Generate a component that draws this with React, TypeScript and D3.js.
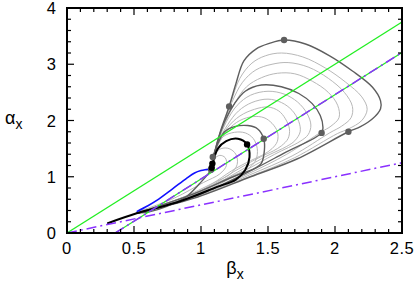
import { useEffect, useRef } from "react";
import * as d3 from "d3";

type Pt = [number, number];

// x ticks / y ticks
const xTicks = [0, 0.5, 1, 1.5, 2, 2.5];
const yTicks = [0, 1, 2, 3, 4];
const xMinor = d3.range(0, 2.5001, 0.1);
const yMinor = d3.range(0, 4.0001, 0.2);

// reference lines [x0, y0, x1, y1]
const greenLines: number[][] = [
  [0, 0, 2.5, 3.75],
  [0.36, 0, 2.5, 3.21],
];
const purpleLines: number[][] = [
  [0.36, 0, 2.5, 3.21],
  [0, 0, 2.5, 1.25],
];

// thin light grey loops
const lightLoops: Pt[][] = [
  [[1.09,1.30],[1.15,1.8],[1.22,2.3],[1.29,2.75],[1.38,3.02],[1.48,3.15],[1.60,3.2],[1.76,3.13],[1.93,2.93],[2.08,2.68],[2.2,2.42],[2.24,2.2],[2.2,2.0],[2.1,1.85],[2.02,1.77],[1.7,1.34],[1.37,1.01],[0.95,0.63],[0.52,0.35]],
  [[1.09,1.30],[1.15,1.82],[1.23,2.32],[1.31,2.68],[1.41,2.9],[1.53,3.0],[1.65,3.03],[1.8,2.95],[1.95,2.75],[2.07,2.5],[2.13,2.25],[2.12,2.05],[2.05,1.9],[1.96,1.78],[1.68,1.37],[1.36,1.03],[0.95,0.63],[0.52,0.35]],
  [[1.09,1.30],[1.16,1.84],[1.25,2.3],[1.34,2.6],[1.45,2.76],[1.57,2.84],[1.70,2.83],[1.83,2.7],[1.95,2.5],[2.02,2.27],[2.03,2.05],[1.97,1.9],[1.90,1.8],[1.64,1.4],[1.35,1.05],[0.95,0.64],[0.52,0.35]],
  [[1.09,1.30],[1.13,1.65],[1.19,1.98],[1.27,2.27],[1.37,2.45],[1.5,2.52],[1.62,2.47],[1.72,2.33],[1.79,2.13],[1.82,1.92],[1.8,1.75],[1.74,1.63],[1.55,1.4],[1.32,1.1],[0.95,0.66],[0.52,0.35]],
  [[1.09,1.30],[1.13,1.62],[1.2,1.93],[1.28,2.17],[1.38,2.32],[1.5,2.38],[1.6,2.32],[1.68,2.18],[1.73,1.98],[1.74,1.8],[1.7,1.64],[1.64,1.54],[1.5,1.38],[1.3,1.12],[0.95,0.67],[0.52,0.35]],
  [[1.09,1.30],[1.13,1.6],[1.2,1.88],[1.29,2.08],[1.4,2.2],[1.5,2.24],[1.58,2.17],[1.63,2.03],[1.66,1.85],[1.65,1.68],[1.6,1.55],[1.54,1.46],[1.45,1.36],[1.28,1.14],[0.95,0.68],[0.52,0.35]],
  [[1.09,1.30],[1.13,1.58],[1.2,1.83],[1.29,2.0],[1.39,2.07],[1.47,2.05],[1.53,1.95],[1.57,1.8],[1.57,1.63],[1.53,1.5],[1.47,1.4],[1.4,1.32],[1.26,1.15],[0.95,0.69],[0.52,0.35]],
  [[1.088,1.3],[1.12,1.55],[1.17,1.72],[1.25,1.79],[1.33,1.78],[1.39,1.68],[1.42,1.5],[1.41,1.3],[1.36,1.16],[1.22,1.0],[0.95,0.71],[0.52,0.35]],
  [[1.085,1.25],[1.1,1.4],[1.15,1.5],[1.21,1.5],[1.26,1.4],[1.27,1.22],[1.22,1.05],[1.1,0.9],[0.85,0.62],[0.52,0.36]],
  [[1.085,1.22],[1.1,1.32],[1.14,1.38],[1.18,1.34],[1.19,1.2],[1.14,1.05],[1.02,0.9],[0.8,0.62],[0.52,0.37]],
];

// darker grey loops
const darkLoops: Pt[][] = [
  [[1.09,1.30],[1.14,1.77],[1.21,2.25],[1.26,2.65],[1.32,3.06],[1.41,3.27],[1.51,3.37],[1.62,3.43],[1.78,3.36],[1.96,3.15],[2.13,2.88],[2.28,2.59],[2.34,2.35],[2.34,2.21],[2.28,2.03],[2.19,1.89],[2.10,1.80],[1.72,1.32],[1.37,1.0],[0.95,0.62],[0.52,0.35]],
  [[1.09,1.30],[1.12,1.6],[1.18,2.0],[1.25,2.3],[1.33,2.52],[1.45,2.63],[1.6,2.6],[1.73,2.48],[1.83,2.3],[1.89,2.09],[1.91,1.88],[1.90,1.78],[1.62,1.42],[1.34,1.07],[0.95,0.65],[0.52,0.35]],
  [[1.088,1.35],[1.126,1.59],[1.176,1.80],[1.25,1.89],[1.349,1.91],[1.423,1.85],[1.468,1.676],[1.473,1.47],[1.449,1.234],[1.40,1.15],[1.24,1.0],[0.95,0.70],[0.52,0.35]],
  [[1.085,1.2],[1.064,1.085],[0.99,0.88],[0.89,0.645],[0.74,0.47],[0.62,0.38],[0.52,0.35]],
];

const blackLoop: Pt[] = [[1.088,1.234],[1.126,1.50],[1.188,1.634],[1.275,1.676],[1.344,1.575],[1.362,1.35],[1.33,1.12],[1.26,0.95],[1.12,0.82],[0.85,0.57],[0.52,0.35],[0.3,0.17]];

const blueCurve: Pt[] = [[0.52,0.38],[0.6,0.48],[0.67,0.58],[0.79,0.79],[0.89,0.968],[0.952,1.067],[1.0,1.11],[1.039,1.127],[1.08,1.14]];

const greyDots: Pt[] = [[1.62,3.43],[1.21,2.25],[2.10,1.80],[1.90,1.78],[1.468,1.676],[1.088,1.35],[1.075,1.13]];
const blackDots: Pt[] = [[1.344,1.575],[1.085,1.234],[1.08,1.16]];

export default function App() {
  const ref = useRef<SVGSVGElement>(null);

  useEffect(() => {
    const svg = d3.select(ref.current);
    svg.selectAll("*").remove();
    const left = 67, right = 402, top = 8, bottom = 233;
    const x = d3.scaleLinear([0, 2.5], [left, right]);
    const y = d3.scaleLinear([0, 4], [bottom, top]);
    const font = "'Liberation Sans', Arial, sans-serif";

    svg.append("clipPath").attr("id", "plotclip")
      .append("rect").attr("x", left).attr("y", top)
      .attr("width", right - left).attr("height", bottom - top);

    const g = svg.append("g").attr("clip-path", "url(#plotclip)");
    const line = d3.line<Pt>().x(d => x(d[0])).y(d => y(d[1])).curve(d3.curveCatmullRom.alpha(0.5));

    g.selectAll("path.light").data(lightLoops).join("path")
      .attr("class", "light").attr("d", d => line(d))
      .attr("fill", "none").attr("stroke", "#b8b8b8").attr("stroke-width", 1);

    g.selectAll("path.dark").data(darkLoops).join("path")
      .attr("class", "dark").attr("d", d => line(d))
      .attr("fill", "none").attr("stroke", "#5e5e5e").attr("stroke-width", 1.4);

    g.append("path").attr("d", line(blackLoop)).attr("fill", "none")
      .attr("stroke", "#000").attr("stroke-width", 2);

    g.append("path").attr("d", line(blueCurve)).attr("fill", "none")
      .attr("stroke", "#1010ff").attr("stroke-width", 1.6);

    g.selectAll("line.green").data(greenLines).join("line")
      .attr("class", "green")
      .attr("x1", d => x(d[0])).attr("y1", d => y(d[1]))
      .attr("x2", d => x(d[2])).attr("y2", d => y(d[3]))
      .attr("stroke", "#22ee22").attr("stroke-width", 1.2);

    g.selectAll("line.purple").data(purpleLines).join("line")
      .attr("class", "purple")
      .attr("x1", d => x(d[0])).attr("y1", d => y(d[1]))
      .attr("x2", d => x(d[2])).attr("y2", d => y(d[3]))
      .attr("stroke", "#8a30ff").attr("stroke-width", 1.5)
      .attr("stroke-dasharray", "10,4,2,4");

    g.selectAll("circle.gd").data(greyDots).join("circle")
      .attr("class", "gd").attr("cx", d => x(d[0])).attr("cy", d => y(d[1]))
      .attr("r", 3.2).attr("fill", "#5e5e5e");
    g.selectAll("circle.bd").data(blackDots).join("circle")
      .attr("class", "bd").attr("cx", d => x(d[0])).attr("cy", d => y(d[1]))
      .attr("r", 3.2).attr("fill", "#000");

    // frame and ticks
    const ax = svg.append("g").attr("stroke", "#000");
    ax.append("rect").attr("x", left).attr("y", top)
      .attr("width", right - left).attr("height", bottom - top)
      .attr("fill", "none").attr("stroke-width", 2);

    const isMajorX = (v: number) => Math.abs(v * 2 - Math.round(v * 2)) < 1e-6;
    const isMajorY = (v: number) => Math.abs(v - Math.round(v)) < 1e-6;
    xMinor.forEach(v => {
      const len = isMajorX(v) ? 7 : 4;
      ax.append("line").attr("x1", x(v)).attr("x2", x(v)).attr("y1", bottom).attr("y2", bottom - len).attr("stroke-width", 1.2);
      ax.append("line").attr("x1", x(v)).attr("x2", x(v)).attr("y1", top).attr("y2", top + len).attr("stroke-width", 1.2);
    });
    yMinor.forEach(v => {
      const len = isMajorY(v) ? 7 : 4;
      ax.append("line").attr("y1", y(v)).attr("y2", y(v)).attr("x1", left).attr("x2", left + len).attr("stroke-width", 1.2);
      ax.append("line").attr("y1", y(v)).attr("y2", y(v)).attr("x1", right).attr("x2", right - len).attr("stroke-width", 1.2);
    });

    svg.selectAll("text.xt").data(xTicks).join("text")
      .attr("class", "xt").attr("x", d => x(d)).attr("y", 253.5)
      .attr("text-anchor", "middle").attr("font-family", font).attr("font-size", 16.5)
      .attr("letter-spacing", 0.6)
      .text(d => String(d));
    svg.selectAll("text.yt").data(yTicks).join("text")
      .attr("class", "yt").attr("x", 56).attr("y", d => y(d) + 6)
      .attr("text-anchor", "end").attr("font-family", font).attr("font-size", 16.5)
      .text(d => String(d));

    const xl = svg.append("text").attr("x", 235).attr("y", 274)
      .attr("text-anchor", "middle").attr("font-family", font).attr("font-size", 18);
    xl.append("tspan").text("β");
    xl.append("tspan").attr("dy", 5).attr("font-size", 14).text("x");

    const yl = svg.append("text").attr("x", 5).attr("y", 124)
      .attr("font-family", font).attr("font-size", 18);
    yl.append("tspan").text("α");
    yl.append("tspan").attr("dy", 5).attr("font-size", 14).text("x");
  }, []);

  return (
    <svg ref={ref} width={415} height={283} style={{ position: "absolute", left: 0, top: 0, background: "#fff" }} />
  );
}
